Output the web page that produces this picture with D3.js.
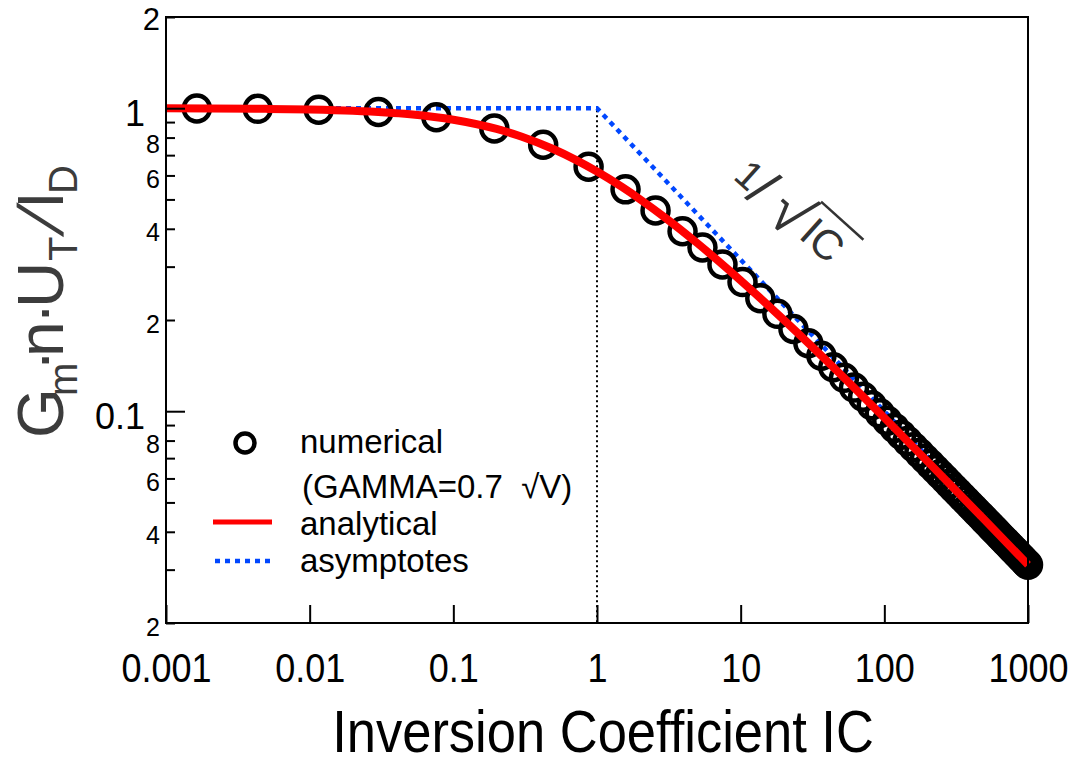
<!DOCTYPE html>
<html><head><meta charset="utf-8">
<script src="https://cdn.jsdelivr.net/npm/d3@7"></script>
<style>body{margin:0;background:#fff} svg{display:block} text{font-family:"Liberation Sans",Arial,sans-serif}</style>
</head><body><svg id="c" width="1076" height="770"></svg>
<script>
// ---- data ----
const icNumerical = [0.00164,0.00435,0.01156,0.0301,0.0762,0.193,0.422,0.874,1.58,2.556,3.94,5.42,7.47,10.3,13.7,18.0,23.3,29.6,
  36.48,44.09,52.42,61.47,71.23,81.72,92.93,104.86,117.51,130.87,144.96,159.77,175.3,191.55,208.51,226.2,244.61,263.74,283.59,
  304.15,325.44,347.45,370.18,393.63,417.79,442.68,468.29,494.62,521.67,549.43,577.92,607.13,637.06,667.71,699.07,731.16,763.97,
  797.5,831.75,866.71,902.4,938.81,975.94,1000];
const gmNumerical = [0.998,0.9957,0.9887,0.9716,0.9336,0.8579,0.7577,0.641,0.5397,0.4598,0.3926,0.3471,0.305,0.2668,0.2361,0.2096,0.1868,0.1677,
  0.15242,0.13969,0.12891,0.11968,0.11167,0.10467,0.09849,0.093,0.08809,0.08368,0.07968,0.07605,0.07273,0.06969,0.0669,0.06432,0.06193,0.05971,0.05765,
  0.05572,0.05392,0.05223,0.05064,0.04915,0.04774,0.04641,0.04516,0.04396,0.04283,0.04176,0.04074,0.03977,0.03884,0.03796,0.03711,0.0363,0.03553,
  0.03479,0.03408,0.0334,0.03274,0.03211,0.0315,0.03113];
const icAnalytical = [0.001,0.002,0.005,0.01,0.02,0.05,0.1,0.2,0.3,0.5,0.7,1,1.5,2,3,5,7,10,20,50,100,200,500,1000];
const gmAnalytical = [0.999,0.998,0.995,0.9902,0.9808,0.9545,0.9161,0.8541,0.8054,0.732,0.6781,0.618,0.5486,0.5,0.4343,0.3583,0.3132,0.2702,0.2,0.1318,0.09512,0.06826,0.04373,0.03113];
const icAsymptote = [0.001,1,1000];
const gmAsymptote = [1,1,0.03162];
const xTickValues = [0.001,0.01,0.1,1,10,100,1000];
const xTickLabels = ["0.001","0.01","0.1","1","10","100","1000"];
const yTickValues = [2,1,0.8,0.6,0.4,0.2,0.1,0.08,0.06,0.04,0.02];
const yTickLabels = ["2","1","8","6","4","2","0.1","8","6","4","2"];
const yMinorTicks = [0.9,0.7,0.5,0.3,0.09,0.07,0.05,0.03];
const legendLabels = ["numerical","(GAMMA=0.7\u00a0\u00a0\u221aV)","analytical","asymptotes"];

const svg = d3.select("#c");
const x = d3.scaleLog().domain([0.001,1000]).range([166,1028]);
const y = d3.scaleLog().domain([0.02,2]).range([623,17]);

// vertical dotted marker at IC = 1
svg.append("line").attr("x1",x(1)).attr("x2",x(1)).attr("y1",y(0.985)).attr("y2",y(0.02))
  .attr("stroke","#000").attr("stroke-width",2).attr("stroke-dasharray","2,3");

// asymptotes
const line = d3.line().x(d=>x(d[0])).y(d=>y(d[1]));
svg.append("path").datum(icAsymptote.map((v,i)=>[v,gmAsymptote[i]]))
  .attr("d",line).attr("fill","none").attr("stroke","#0047ff").attr("stroke-width",4.5).attr("stroke-dasharray","5,5");

// numerical circles
svg.append("g").selectAll("circle").data(icNumerical.map((v,i)=>[v,gmNumerical[i]])).join("circle")
  .attr("cx",d=>x(d[0])).attr("cy",d=>y(d[1])).attr("r",13)
  .attr("fill","none").attr("stroke","#000").attr("stroke-width",4.5);

// analytical
svg.append("path").datum(icAnalytical.map((v,i)=>[v,gmAnalytical[i]]))
  .attr("d",d3.line().x(d=>x(d[0])).y(d=>y(d[1])).curve(d3.curveMonotoneX))
  .attr("fill","none").attr("stroke","#ff0000").attr("stroke-width",8);

// frame
svg.append("rect").attr("x",166).attr("y",17).attr("width",1028-166).attr("height",623-17)
  .attr("fill","none").attr("stroke","#000").attr("stroke-width",2);

// x axis
const gx = svg.append("g").attr("transform","translate(0,623)")
  .call(d3.axisBottom(x).tickValues(xTickValues).tickSize(-18).tickFormat((d,i)=>xTickLabels[i]));
gx.select(".domain").remove();
gx.selectAll(".tick line").attr("stroke","#000").attr("stroke-width",2);
gx.selectAll(".tick text").attr("y",59).attr("dy",0).attr("font-size",40).attr("fill","#000")
  .attr("transform","scale(0.9,1)")
  .attr("font-family","Liberation Sans, Arial, sans-serif");

// y axis
const isMajor = d => d===1 || d===0.1;
const gy = svg.append("g").attr("transform","translate(166,0)")
  .call(d3.axisLeft(y).tickValues(yTickValues.concat(yMinorTicks)).tickSize(-9)
    .tickFormat(d=>{const i=yTickValues.indexOf(d); return i>=0?yTickLabels[i]:"";}));
gy.select(".domain").remove();
gy.selectAll(".tick line").attr("stroke","#000").attr("stroke-width",2).attr("x2",d=>isMajor(d)?19:9);
gy.selectAll(".tick text").attr("fill","#000").attr("font-family","Liberation Sans, Arial, sans-serif")
  .attr("font-size",d=>isMajor(d)?36:(d===2?31:25))
  .attr("x",d=>isMajor(d)?-21:-6)
  .attr("dy",d=>isMajor(d)?"17px":(d===2?"12.5px":(d===0.8?"15px":"12px")));

// axis titles
svg.append("text").attr("transform","translate(603,752) scale(0.875,1)").attr("text-anchor","middle").attr("font-size",60)
  .attr("fill","#000").text("Inversion Coefficient IC");

const ytg = svg.append("g").attr("transform","translate(63,438) rotate(-90)").attr("fill","#3c3c3c");
const yt = ytg.append("text").attr("font-size",64);
yt.append("tspan").attr("x",0).attr("y",0).text("G");
yt.append("tspan").attr("x",42).attr("y",14).attr("font-size",40).text("m");
yt.append("tspan").attr("x",67).attr("y",0).text("\u00b7");
yt.append("tspan").attr("x",81).attr("y",0).text("n");
yt.append("tspan").attr("x",114).attr("y",0).text("\u00b7");
yt.append("tspan").attr("x",130).attr("y",0).text("U");
yt.append("tspan").attr("x",177).attr("y",14).attr("font-size",40).text("T");
yt.append("tspan").attr("x",229).attr("y",0).text("I");
yt.append("tspan").attr("x",244).attr("y",14).attr("font-size",40).text("D");
ytg.append("text").attr("transform","translate(201,0) skewX(-20)").attr("font-size",64).text("/");

// annotation 1/sqrt(IC)
const ann = svg.append("g").attr("transform","translate(732,178) rotate(42)").attr("fill","#333");
ann.append("text").attr("x",0).attr("y",0).attr("font-size",40).attr("font-family","Liberation Serif, serif").text("1");
ann.append("text").attr("x",22).attr("y",6).attr("font-size",56).attr("font-family","Liberation Serif, serif").text("/");
const rad = ann.append("text").attr("x",50).attr("y",8).attr("font-size",62).attr("font-family","DejaVu Serif, serif").text("\u221a");
ann.append("text").attr("x",88).attr("y",0).attr("font-size",42).attr("font-family","Liberation Serif, serif").text("IC");
const rb = rad.node().getBBox();
ann.append("line").attr("x1",rb.x+rb.width-2).attr("x2",139).attr("y1",-42).attr("y2",-42).attr("stroke","#333").attr("stroke-width",2.5);

// legend
const lg = svg.append("g");
lg.append("circle").attr("cx",245).attr("cy",443).attr("r",9.5).attr("fill","none").attr("stroke","#000").attr("stroke-width",4.5);
lg.append("line").attr("x1",213).attr("x2",272).attr("y1",522).attr("y2",522).attr("stroke","#ff0000").attr("stroke-width",5);
lg.append("line").attr("x1",215).attr("x2",272).attr("y1",561).attr("y2",561).attr("stroke","#0047ff").attr("stroke-width",4.5).attr("stroke-dasharray","5,5");
const legendY = [453,498,535,572];
lg.selectAll("text.lt").data(legendLabels).join("text").attr("class","lt")
  .attr("x",(d,i)=>i===1?302:300).attr("y",(d,i)=>legendY[i]).attr("font-size",33).attr("fill","#000").text(d=>d);
</script></body></html>
